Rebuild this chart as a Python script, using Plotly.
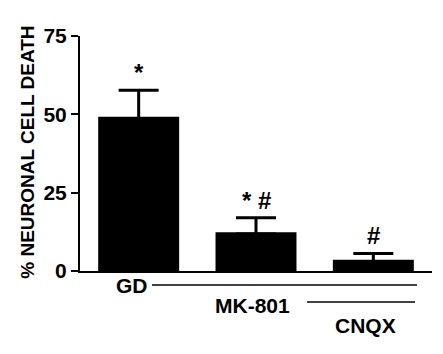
import plotly.graph_objects as go

categories = ["GD", "GD+MK-801", "GD+MK-801+CNQX"]
values = [49.2, 12.4, 3.6]
errors = [8.5, 4.6, 2.0]
sig_labels = ["*", "* #", "#"]
y_ticks = [0, 25, 50, 75]

FONT = "Liberation Sans, Arial, sans-serif"

fig = go.Figure()
fig.add_trace(go.Bar(
    x=[0, 1, 2], y=values, width=0.69,
    marker=dict(color="black", line=dict(width=0)),
    # small downward extent keeps the lower cap hidden inside the black bar (one-sided SEM look)
    error_y=dict(type="data", array=errors, arrayminus=[0.6] * len(values), symmetric=False,
                 color="black", thickness=3, width=20),
))

# significance markers
for i, (v, e, s) in enumerate(zip(values, errors, sig_labels)):
    fig.add_annotation(x=i, y=v + e, text=s, showarrow=False, yanchor="bottom", xanchor="center",
                       yshift=2, font=dict(family=FONT, size=24, color="black", weight="bold"))

# treatment labels and lines below axis
lab_font = dict(family=FONT, size=21, color="black", weight="bold")
fig.add_annotation(x=-0.057, y=-0.0596, xref="x", yref="paper", text="GD", showarrow=False,
                   xanchor="center", yanchor="middle", font=lab_font)
fig.add_shape(type="line", x0=0.114, x1=2.372, y0=-0.0596, y1=-0.0596, xref="x", yref="paper",
              line=dict(color="black", width=1.5))
fig.add_annotation(x=0.966, y=-0.1447, xref="x", yref="paper", text="MK-801", showarrow=False,
                   xanchor="center", yanchor="middle", font=lab_font)
fig.add_shape(type="line", x0=1.435, x1=2.355, y0=-0.132, y1=-0.132, xref="x", yref="paper",
              line=dict(color="black", width=1.5))
fig.add_annotation(x=1.937, y=-0.23, xref="x", yref="paper", text="CNQX", showarrow=False,
                   xanchor="center", yanchor="middle", font=lab_font)

# y-axis title
fig.add_annotation(x=-0.148, y=0.507, xref="paper", yref="paper", text="% NEURONAL CELL DEATH",
                   textangle=-90, showarrow=False, xanchor="center", yanchor="middle",
                   font=dict(family=FONT, size=19, color="black", weight="bold"))

fig.update_layout(
    width=435, height=346,
    margin=dict(l=72, r=11, t=28, b=83),
    paper_bgcolor="white", plot_bgcolor="white",
    showlegend=False,
    font=dict(family=FONT, color="black"),
    xaxis=dict(range=[-0.5, 2.5], showline=True, linecolor="black", linewidth=2,
               showticklabels=False, ticks="", showgrid=False, zeroline=False, automargin=False),
    yaxis=dict(range=[0, 75], tickvals=y_ticks, showline=True, linecolor="black", linewidth=2,
               ticks="outside", ticklen=7, tickwidth=2, tickcolor="black",
               showgrid=False, zeroline=False, automargin=False,
               tickfont=dict(family=FONT, size=21, color="black", weight="bold")),
)

fig.write_html("out.html")
